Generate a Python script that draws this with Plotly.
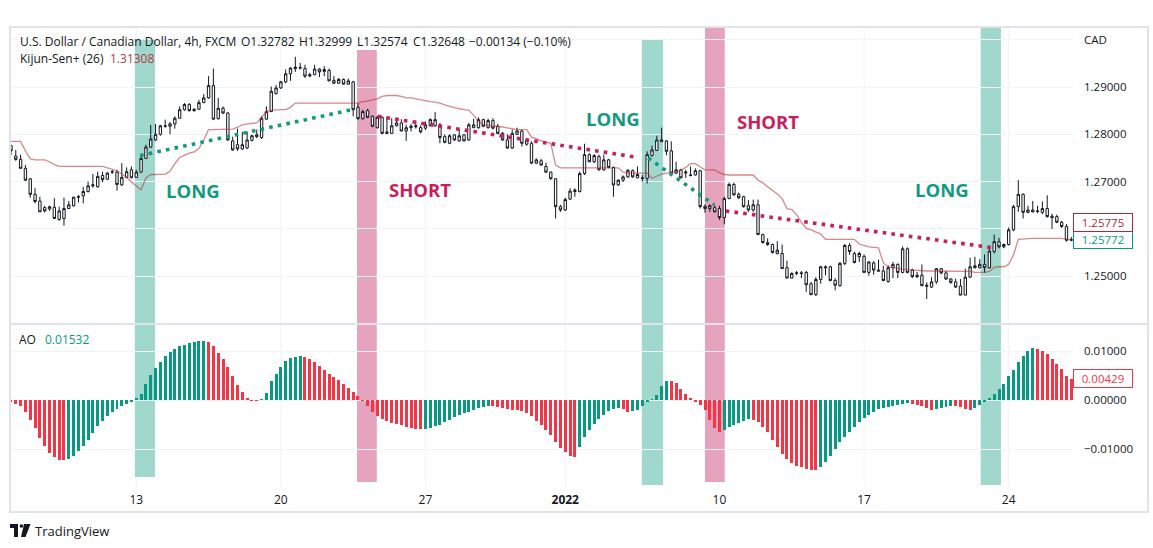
import plotly.graph_objects as go
from plotly.subplots import make_subplots

W, H = 1153, 548

# ---------------- data ----------------
open_ = [1.2776,1.2754,1.2747,1.2728,1.2706,1.2673,1.2659,1.2645,1.2642,1.2646,
1.2620,1.2622,1.2643,1.2649,1.2667,1.2670,1.2679,1.2691,1.2689,1.2713,
1.2705,1.2720,1.2720,1.2693,1.2709,1.2725,1.2709,1.2720,1.2749,1.2773,
1.2788,1.2800,1.2818,1.2817,1.2822,1.2834,1.2852,1.2863,1.2853,1.2853,
1.2867,1.2877,1.2903,1.2833,1.2855,1.2845,1.2786,1.2778,1.2769,1.2771,
1.2787,1.2799,1.2793,1.2832,1.2848,1.2886,1.2898,1.2911,1.2928,1.2939,
1.2940,1.2939,1.2923,1.2926,1.2938,1.2933,1.2935,1.2914,1.2908,1.2916,
1.2906,1.2911,1.2857,1.2833,1.2850,1.2838,1.2814,1.2836,1.2805,1.2802,
1.2818,1.2824,1.2807,1.2814,1.2816,1.2814,1.2813,1.2818,1.2818,1.2820,
1.2795,1.2781,1.2799,1.2786,1.2799,1.2788,1.2814,1.2814,1.2831,1.2814,
1.2829,1.2817,1.2802,1.2788,1.2771,1.2800,1.2807,1.2779,1.2781,1.2739,
1.2744,1.2732,1.2720,1.2706,1.2647,1.2640,1.2663,1.2679,1.2679,1.2717,
1.2757,1.2742,1.2753,1.2725,1.2746,1.2730,1.2693,1.2703,1.2710,1.2723,
1.2708,1.2708,1.2707,1.2755,1.2766,1.2788,1.2786,1.2765,1.2718,1.2725,
1.2718,1.2714,1.2714,1.2723,1.2648,1.2643,1.2645,1.2643,1.2624,1.2664,
1.2694,1.2673,1.2668,1.2649,1.2640,1.2651,1.2588,1.2571,1.2567,1.2548,
1.2548,1.2518,1.2496,1.2506,1.2507,1.2508,1.2484,1.2461,1.2493,1.2520,
1.2520,1.2491,1.2480,1.2527,1.2565,1.2548,1.2541,1.2542,1.2508,1.2528,
1.2513,1.2511,1.2489,1.2518,1.2525,1.2508,1.2558,1.2513,1.2502,1.2502,
1.2481,1.2477,1.2488,1.2516,1.2507,1.2494,1.2488,1.2479,1.2460,1.2498,
1.2518,1.2518,1.2525,1.2518,1.2552,1.2573,1.2562,1.2567,1.2598,1.2647,
1.2673,1.2635,1.2640,1.2638,1.2635,1.2643,1.2627,1.2626,1.2614,1.2605,
1.2576]
high = [1.2778,1.2767,1.2757,1.2735,1.2707,1.2686,1.2668,1.2649,1.2649,1.2665,
1.2647,1.2666,1.2659,1.2668,1.2672,1.2689,1.2700,1.2716,1.2721,1.2721,
1.2720,1.2725,1.2725,1.2739,1.2730,1.2732,1.2725,1.2753,1.2778,1.2820,
1.2822,1.2820,1.2831,1.2826,1.2838,1.2859,1.2866,1.2866,1.2855,1.2873,
1.2885,1.2923,1.2939,1.2877,1.2859,1.2847,1.2795,1.2812,1.2805,1.2806,
1.2799,1.2810,1.2838,1.2859,1.2901,1.2904,1.2913,1.2937,1.2942,1.2964,
1.2951,1.2947,1.2930,1.2947,1.2940,1.2944,1.2939,1.2923,1.2919,1.2918,
1.2918,1.2913,1.2866,1.2852,1.2854,1.2840,1.2839,1.2838,1.2836,1.2834,
1.2831,1.2832,1.2820,1.2822,1.2829,1.2819,1.2827,1.2834,1.2847,1.2824,
1.2800,1.2800,1.2800,1.2810,1.2800,1.2824,1.2833,1.2836,1.2833,1.2833,
1.2834,1.2822,1.2805,1.2800,1.2810,1.2814,1.2810,1.2792,1.2785,1.2749,
1.2748,1.2740,1.2721,1.2707,1.2651,1.2666,1.2686,1.2686,1.2721,1.2780,
1.2760,1.2758,1.2757,1.2757,1.2748,1.2732,1.2705,1.2713,1.2726,1.2726,
1.2732,1.2714,1.2764,1.2776,1.2797,1.2814,1.2788,1.2785,1.2742,1.2727,
1.2725,1.2732,1.2728,1.2725,1.2652,1.2652,1.2650,1.2649,1.2668,1.2698,
1.2698,1.2677,1.2670,1.2661,1.2662,1.2662,1.2590,1.2580,1.2569,1.2574,
1.2567,1.2533,1.2508,1.2511,1.2511,1.2511,1.2488,1.2498,1.2522,1.2523,
1.2522,1.2496,1.2530,1.2568,1.2570,1.2552,1.2552,1.2546,1.2532,1.2532,
1.2535,1.2522,1.2523,1.2530,1.2527,1.2563,1.2561,1.2516,1.2509,1.2525,
1.2487,1.2498,1.2516,1.2516,1.2511,1.2496,1.2495,1.2494,1.2516,1.2539,
1.2541,1.2536,1.2546,1.2558,1.2588,1.2581,1.2569,1.2603,1.2651,1.2703,
1.2675,1.2649,1.2659,1.2649,1.2658,1.2671,1.2632,1.2630,1.2617,1.2610,
1.2583]
low = [1.2756,1.2744,1.2728,1.2701,1.2666,1.2654,1.2636,1.2635,1.2638,1.2621,
1.2617,1.2607,1.2642,1.2647,1.2656,1.2654,1.2677,1.2687,1.2687,1.2699,
1.2704,1.2716,1.2681,1.2691,1.2707,1.2707,1.2708,1.2718,1.2748,1.2771,
1.2786,1.2797,1.2814,1.2800,1.2812,1.2833,1.2850,1.2848,1.2848,1.2852,
1.2866,1.2875,1.2830,1.2831,1.2843,1.2786,1.2765,1.2765,1.2767,1.2769,
1.2785,1.2792,1.2790,1.2831,1.2847,1.2884,1.2896,1.2908,1.2913,1.2932,
1.2937,1.2919,1.2921,1.2925,1.2921,1.2923,1.2912,1.2907,1.2907,1.2905,
1.2905,1.2838,1.2831,1.2831,1.2834,1.2815,1.2812,1.2800,1.2800,1.2801,
1.2817,1.2806,1.2786,1.2806,1.2812,1.2802,1.2809,1.2817,1.2816,1.2781,
1.2781,1.2779,1.2786,1.2785,1.2785,1.2786,1.2813,1.2812,1.2815,1.2812,
1.2810,1.2800,1.2786,1.2769,1.2769,1.2799,1.2774,1.2776,1.2737,1.2737,
1.2734,1.2718,1.2704,1.2622,1.2636,1.2638,1.2661,1.2668,1.2677,1.2714,
1.2741,1.2739,1.2723,1.2723,1.2728,1.2668,1.2691,1.2699,1.2708,1.2708,
1.2707,1.2700,1.2696,1.2753,1.2765,1.2783,1.2756,1.2716,1.2716,1.2707,
1.2708,1.2711,1.2713,1.2643,1.2634,1.2636,1.2635,1.2619,1.2610,1.2663,
1.2670,1.2663,1.2645,1.2636,1.2636,1.2587,1.2569,1.2564,1.2548,1.2546,
1.2516,1.2496,1.2496,1.2502,1.2496,1.2467,1.2460,1.2458,1.2484,1.2502,
1.2489,1.2470,1.2478,1.2523,1.2545,1.2527,1.2530,1.2507,1.2501,1.2503,
1.2510,1.2489,1.2486,1.2496,1.2496,1.2506,1.2506,1.2496,1.2496,1.2479,
1.2452,1.2475,1.2484,1.2504,1.2492,1.2484,1.2475,1.2460,1.2460,1.2496,
1.2516,1.2516,1.2507,1.2516,1.2548,1.2559,1.2559,1.2565,1.2595,1.2636,
1.2622,1.2633,1.2635,1.2633,1.2631,1.2624,1.2600,1.2612,1.2602,1.2573,
1.2574]
close = [1.2765,1.2747,1.2728,1.2703,1.2673,1.2658,1.2636,1.2638,1.2647,1.2622,
1.2638,1.2643,1.2651,1.2667,1.2668,1.2679,1.2691,1.2693,1.2711,1.2704,
1.2718,1.2721,1.2694,1.2709,1.2721,1.2708,1.2720,1.2749,1.2773,1.2790,
1.2800,1.2818,1.2817,1.2822,1.2834,1.2852,1.2863,1.2850,1.2850,1.2867,
1.2877,1.2903,1.2832,1.2855,1.2845,1.2788,1.2767,1.2769,1.2778,1.2788,
1.2797,1.2795,1.2834,1.2848,1.2891,1.2898,1.2911,1.2928,1.2940,1.2942,
1.2941,1.2923,1.2926,1.2938,1.2932,1.2937,1.2913,1.2908,1.2916,1.2906,
1.2913,1.2852,1.2833,1.2848,1.2836,1.2817,1.2836,1.2802,1.2802,1.2818,
1.2824,1.2807,1.2814,1.2817,1.2818,1.2805,1.2820,1.2831,1.2831,1.2793,
1.2783,1.2797,1.2788,1.2797,1.2786,1.2820,1.2820,1.2831,1.2817,1.2829,
1.2813,1.2802,1.2788,1.2771,1.2802,1.2807,1.2781,1.2788,1.2739,1.2746,
1.2735,1.2720,1.2706,1.2647,1.2640,1.2662,1.2680,1.2682,1.2717,1.2757,
1.2742,1.2755,1.2725,1.2746,1.2730,1.2693,1.2703,1.2710,1.2724,1.2710,
1.2715,1.2707,1.2757,1.2767,1.2788,1.2785,1.2764,1.2718,1.2725,1.2708,
1.2720,1.2713,1.2723,1.2647,1.2643,1.2649,1.2636,1.2624,1.2664,1.2694,
1.2672,1.2666,1.2647,1.2640,1.2651,1.2588,1.2571,1.2567,1.2550,1.2555,
1.2516,1.2496,1.2506,1.2507,1.2506,1.2482,1.2461,1.2493,1.2520,1.2518,
1.2491,1.2481,1.2527,1.2565,1.2552,1.2529,1.2548,1.2508,1.2530,1.2513,
1.2511,1.2491,1.2518,1.2525,1.2508,1.2558,1.2508,1.2499,1.2499,1.2480,
1.2479,1.2488,1.2516,1.2507,1.2494,1.2487,1.2477,1.2460,1.2498,1.2520,
1.2522,1.2525,1.2518,1.2553,1.2573,1.2562,1.2567,1.2598,1.2647,1.2673,
1.2635,1.2640,1.2636,1.2637,1.2643,1.2626,1.2624,1.2614,1.2605,1.2576,
1.25772]
kijun = [1.2785,1.2785,1.2785,1.2765,1.2748,1.2746,1.2746,1.2746,1.2742,1.2736,
1.2732,1.2732,1.2732,1.2732,1.2732,1.2732,1.2732,1.2732,1.2732,1.2732,
1.2729,1.2726,1.2723,1.2716,1.2709,1.2699,1.2690,1.2683,1.2708,1.2715,
1.2715,1.2715,1.2716,1.2722,1.2738,1.2751,1.2756,1.2760,1.2763,1.2770,
1.2788,1.2810,1.2810,1.2810,1.2810,1.2810,1.2811,1.2815,1.2820,1.2822,
1.2823,1.2824,1.2836,1.2848,1.2851,1.2852,1.2852,1.2852,1.2857,1.2866,
1.2866,1.2866,1.2866,1.2866,1.2866,1.2866,1.2866,1.2866,1.2866,1.2866,
1.2866,1.2866,1.2866,1.2869,1.2870,1.2873,1.2875,1.2880,1.2882,1.2882,
1.2882,1.2880,1.2877,1.2877,1.2875,1.2872,1.2870,1.2869,1.2868,1.2866,
1.2862,1.2859,1.2856,1.2854,1.2852,1.2851,1.2840,1.2828,1.2820,1.2818,
1.2817,1.2817,1.2815,1.2813,1.2811,1.2810,1.2810,1.2810,1.2794,1.2791,
1.2786,1.2783,1.2781,1.2735,1.2729,1.2729,1.2729,1.2729,1.2729,1.2729,
1.2729,1.2729,1.2729,1.2729,1.2729,1.2729,1.2729,1.2720,1.2718,1.2718,
1.2718,1.2718,1.2718,1.2707,1.2711,1.2716,1.2718,1.2719,1.2721,1.2724,
1.2730,1.2738,1.2738,1.2731,1.2725,1.2725,1.2725,1.2719,1.2715,1.2714,
1.2714,1.2714,1.2714,1.2714,1.2714,1.2703,1.2697,1.2689,1.2682,1.2674,
1.2664,1.2643,1.2641,1.2630,1.2614,1.2601,1.2598,1.2594,1.2589,1.2578,
1.2578,1.2578,1.2578,1.2578,1.2578,1.2578,1.2568,1.2565,1.2562,1.2561,
1.2560,1.2528,1.2520,1.2518,1.2516,1.2515,1.2514,1.2513,1.2512,1.2511,
1.2511,1.2511,1.2511,1.2511,1.2511,1.2511,1.2511,1.2511,1.2511,1.2510,
1.2508,1.2508,1.2508,1.2510,1.2519,1.2520,1.2520,1.2525,1.2545,1.2578,
1.2579,1.2580,1.2580,1.2580,1.2580,1.2580,1.2580,1.2580,1.2580,1.2578,
1.25775]
ao = [-0.0005,-0.0008,-0.0012,-0.0025,-0.0040,-0.0058,-0.0078,-0.0093,-0.0108,-0.0117,
-0.0122,-0.0123,-0.0121,-0.0114,-0.0104,-0.0094,-0.0082,-0.0067,-0.0053,-0.0042,
-0.0033,-0.0025,-0.0018,-0.0013,-0.0008,-0.0003,0.0005,0.0013,0.0032,0.0052,
0.0066,0.0078,0.0089,0.0098,0.0104,0.0110,0.0113,0.0116,0.0118,0.0120,
0.0121,0.0119,0.0110,0.0096,0.0083,0.0068,0.0050,0.0031,0.0016,0.0005,
-0.0001,-0.0002,0.0001,0.0015,0.0038,0.0054,0.0068,0.0079,0.0085,0.0088,
0.0089,0.0087,0.0083,0.0078,0.0070,0.0062,0.0054,0.0047,0.0040,0.0033,
0.0025,0.0017,0.0008,-0.0002,-0.0013,-0.0025,-0.0033,-0.0039,-0.0043,-0.0046,
-0.0049,-0.0052,-0.0055,-0.0057,-0.0059,-0.0060,-0.0059,-0.0057,-0.0053,-0.0050,
-0.0045,-0.0040,-0.0035,-0.0030,-0.0027,-0.0025,-0.0021,-0.0017,-0.0014,-0.0012,
-0.0013,-0.0015,-0.0017,-0.0019,-0.0020,-0.0021,-0.0023,-0.0027,-0.0033,-0.0042,
-0.0052,-0.0062,-0.0072,-0.0085,-0.0097,-0.0107,-0.0114,-0.0116,-0.0095,-0.0076,
-0.0061,-0.0048,-0.0038,-0.0030,-0.0022,-0.0018,-0.0016,-0.0019,-0.0024,-0.0023,
-0.0020,-0.0012,-0.0005,0.0002,0.0010,0.0028,0.0039,0.0038,0.0034,0.0022,
0.0012,0.0004,-0.0003,-0.0010,-0.0020,-0.0040,-0.0057,-0.0065,-0.0061,-0.0056,
-0.0051,-0.0047,-0.0042,-0.0039,-0.0040,-0.0045,-0.0055,-0.0066,-0.0082,-0.0096,
-0.0110,-0.0120,-0.0128,-0.0134,-0.0137,-0.0140,-0.0142,-0.0143,-0.0136,-0.0127,
-0.0114,-0.0100,-0.0086,-0.0075,-0.0065,-0.0055,-0.0045,-0.0037,-0.0030,-0.0024,
-0.0019,-0.0016,-0.0014,-0.0012,-0.0010,-0.0008,-0.0007,-0.0008,-0.0010,-0.0012,
-0.0017,-0.0020,-0.0018,-0.0016,-0.0014,-0.0012,-0.0013,-0.0015,-0.0018,-0.0020,
-0.0016,-0.0010,-0.0004,0.0004,0.0012,0.0022,0.0033,0.0048,0.0062,0.0078,
0.0090,0.0100,0.0107,0.0104,0.0099,0.0094,0.0083,0.0074,0.0064,0.0050,
0.0043]

tick_bars = [26, 56, 86, 115, 147, 177, 207]
tick_text = ["13", "20", "27", "<b>2022</b>", "10", "17", "24"]
price_ticks = [1.25, 1.26, 1.27, 1.28, 1.29, 1.30]
price_tick_text = ["1.25000", "", "1.27000", "1.28000", "1.29000", "CAD"]
ao_ticks = [-0.01, 0.0, 0.01]
ao_tick_text = ["\u22120.01000", "0.00000", "0.01000"]

# signal lines (bar, price)
long1_x, long1_y = [26.8, 70.7], [1.2755, 1.2852]
short1_x, short1_y = [76.1, 130.1], [1.2838, 1.2751]
long2_x, long2_y = [132.2, 145.9], [1.2750, 1.2651]
short2_x, short2_y = [148.3, 203.8], [1.2638, 1.2560]

# ---------------- styling helpers ----------------
def px(x):
    return x / W

def py(y):
    return 1 - y / H

FONT = "Open Sans, Arial, sans-serif"
TXT = "#131722"
TEAL = "#089981"
RED = "#f23645"
LONGC = "#119a7f"
SHORTC = "#c81e5b"
GRID = "#f0f3fa"
FRAME = "#e0e3eb"

idx = list(range(len(close)))

fig = make_subplots(rows=2, cols=1, shared_xaxes=True, vertical_spacing=0.01)

shapes = []
# vertical grid lines (drawn under the bands)
for tb in tick_bars:
    shapes.append(dict(type="line", xref="x", yref="paper", x0=tb, x1=tb,
                       y0=py(487), y1=py(27), line=dict(color=GRID, width=1), layer="below"))

# bands (bar range, pixel top/bottom, colour)
bands = [
    (25.7, 29.9, 40, 477, "rgb(160,216,205)"),
    (71.8, 75.9, 50, 482, "rgb(230,163,189)"),
    (130.9, 135.3, 40, 485, "rgb(160,216,205)"),
    (144.0, 148.1, 27, 482, "rgb(230,163,189)"),
    (201.2, 205.4, 27, 485, "rgb(160,216,205)"),
]
for x0, x1, t, b, c in bands:
    shapes.append(dict(type="rect", xref="x", yref="paper", x0=x0, x1=x1,
                       y0=py(b), y1=py(t), fillcolor=c, line=dict(width=0), layer="below"))

# frame and pane separator
shapes.append(dict(type="rect", xref="paper", yref="paper", x0=px(10), x1=px(1148),
                   y0=py(512), y1=py(27), line=dict(color=FRAME, width=2), fillcolor="rgba(0,0,0,0)", layer="above"))
shapes.append(dict(type="line", xref="paper", yref="paper", x0=px(10), x1=px(1148),
                   y0=py(324), y1=py(324), line=dict(color=FRAME, width=2), layer="above"))

# TradingView logo
logo_polys = [
    [(10, 524), (18, 524), (18, 537), (14, 537), (14, 528), (10, 528)],
    [(24, 524), (30.5, 524), (25.5, 537), (21, 537)],
]
for poly in logo_polys:
    path = "M " + " L ".join(f"{px(a):.5f},{py(b):.5f}" for a, b in poly) + " Z"
    shapes.append(dict(type="path", xref="paper", yref="paper", path=path,
                       fillcolor=TXT, line=dict(width=0)))
shapes.append(dict(type="circle", xref="paper", yref="paper", x0=px(19.6), x1=px(23.2),
                   y0=py(527.8), y1=py(524.2), fillcolor=TXT, line=dict(width=0)))

fig.add_trace(go.Candlestick(
    x=idx, open=open_, high=high, low=low, close=close,
    increasing=dict(line=dict(color=TXT, width=1), fillcolor="white"),
    decreasing=dict(line=dict(color=TXT, width=1), fillcolor="white"),
    whiskerwidth=0, hoverinfo="skip", showlegend=False), row=1, col=1)

fig.add_trace(go.Scatter(x=idx, y=kijun, mode="lines",
                         line=dict(color="rgba(178,40,45,0.55)", width=1.3),
                         hoverinfo="skip", showlegend=False), row=1, col=1)

for xs, ys, c in [(long1_x, long1_y, LONGC), (short1_x, short1_y, SHORTC),
                  (long2_x, long2_y, LONGC), (short2_x, short2_y, SHORTC)]:
    fig.add_trace(go.Scatter(x=xs, y=ys, mode="lines",
                             line=dict(color=c, width=3.6, dash="3.6px,5.2px"),
                             hoverinfo="skip", showlegend=False), row=1, col=1)

ao_colors = [RED] + [TEAL if ao[i] >= ao[i - 1] else RED for i in range(1, len(ao))]
fig.add_trace(go.Bar(x=idx, y=ao, marker=dict(color=ao_colors, line=dict(width=0)),
                     width=0.62, hoverinfo="skip", showlegend=False), row=2, col=1)

xdom = [px(10), px(1073)]
xr = [-0.2, 220.35]
fig.update_layout(
    width=W, height=H, margin=dict(l=0, r=0, t=0, b=0),
    paper_bgcolor="white", plot_bgcolor="white",
    font=dict(family=FONT, color=TXT, size=12),
    hovermode=False, bargap=0, showlegend=False,
    shapes=shapes,
    xaxis=dict(domain=xdom, range=xr, showgrid=False,
               tickvals=tick_bars, showticklabels=False, zeroline=False,
               rangeslider=dict(visible=False), showline=False, ticks=""),
    xaxis2=dict(domain=xdom, range=xr, showgrid=False,
                tickvals=tick_bars, ticktext=tick_text, zeroline=False, showline=False,
                ticks="", ticklabelstandoff=4, tickfont=dict(size=12, color=TXT)),
    yaxis=dict(domain=[py(323), py(27)], range=[1.240106, 1.302685], side="right",
               tickvals=price_ticks, ticktext=price_tick_text, showgrid=True,
               gridcolor=GRID, zeroline=False, ticks="", ticklabelstandoff=10,
               tickfont=dict(size=11.5, color=TXT)),
    yaxis2=dict(domain=[py(487), py(325)], range=[-0.017755, 0.015306], side="right",
                tickvals=ao_ticks, ticktext=ao_tick_text, showgrid=True,
                gridcolor=GRID, zeroline=False, ticks="", ticklabelstandoff=10,
                tickfont=dict(size=11.5, color=TXT)),
)

ann = []

def text(x, y, s, color=TXT, size=12, anchor="left"):
    ann.append(dict(xref="paper", yref="paper", x=px(x), y=py(y), text=s, showarrow=False,
                    xanchor=anchor, yanchor="middle", font=dict(family=FONT, size=size, color=color)))

# header
text(18, 42, "U.S. Dollar / Canadian Dollar, 4h, FXCM")
text(239, 42, "O1.32782")
text(297, 42, "H1.32999")
text(354.5, 42, "L1.32574")
text(410.5, 42, "C1.32648")
text(467, 42, "\u22120.00134 (\u22120.10%)")
text(18, 58, "Kijun-Sen+ (26)")
text(108, 58, "1.31308", color="#b23a40")
text(17, 339, "AO")
text(43, 339, "0.01532", color=TEAL)

# signals
text(193, 190, "<b>LONG</b>", LONGC, 18.5, "center")
text(420, 189, "<b>SHORT</b>", SHORTC, 18.5, "center")
text(613, 119, "<b>LONG</b>", LONGC, 18.5, "center")
text(768, 121.5, "<b>SHORT</b>", SHORTC, 18.5, "center")
text(942, 189, "<b>LONG</b>", LONGC, 18.5, "center")

# footer
text(33, 531, "TradingView", TXT, 13)

# last-value boxes on the axes
def box(yref, yval, s, color, yshift=0):
    ann.append(dict(xref="paper", yref=yref, x=px(1073), y=yval, text=s, showarrow=False,
                    xanchor="left", yanchor="middle", yshift=yshift, width=56, align="center",
                    font=dict(family=FONT, size=11.5, color=color), bgcolor="white",
                    bordercolor=color, borderwidth=1, borderpad=1))

box("y", close[-1], "1.25772", TEAL)
box("y", kijun[-1], "1.25775", "#b22833", yshift=17)
box("y2", ao[-1], "0.00429", RED)

fig.update_layout(annotations=ann)
fig.write_html("out.html")
